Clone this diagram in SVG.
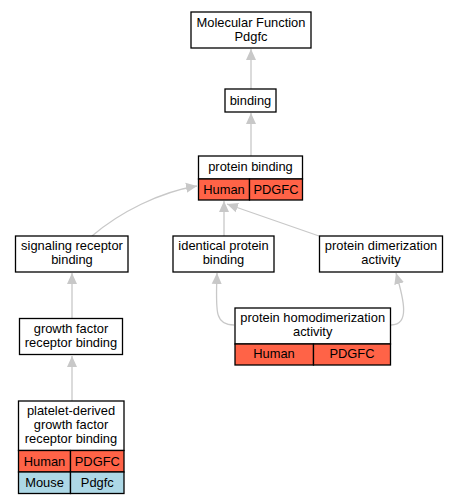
<svg xmlns="http://www.w3.org/2000/svg" width="459" height="504" viewBox="0 0 459 504">
<style>
.box{fill:#fff;stroke:#000;stroke-width:1.3}
.hu{fill:#ff6347;stroke:#000;stroke-width:1.3}
.mo{fill:#add8e6;stroke:#000;stroke-width:1.3}
text{font-family:"Liberation Sans",Arial,sans-serif;font-size:12.9px;text-anchor:middle;fill:#000}
.e{fill:none;stroke:#c8c8c8;stroke-width:1.3}
</style>
<defs>
<marker id="a" markerUnits="userSpaceOnUse" markerWidth="12" markerHeight="12" viewBox="0 0 12 12" refX="11" refY="6" orient="auto">
<path d="M0,1 L11,6 L0,11 Z" fill="#c8c8c8"/>
</marker>
</defs>
<rect width="459" height="504" fill="#fff"/>
<g id="edges">
<path class="e" d="M251,89 L251,49" marker-end="url(#a)"/>
<path class="e" d="M251,156 L251,113" marker-end="url(#a)"/>
<path class="e" d="M92,236 C120,212 160,192 197,186" marker-end="url(#a)"/>
<path class="e" d="M224,236 L224,201" marker-end="url(#a)"/>
<path class="e" d="M319,236 L227,204" marker-end="url(#a)"/>
<path class="e" d="M72,318 L72,273" marker-end="url(#a)"/>
<path class="e" d="M234,325 C214,325 216,310 217,273" marker-end="url(#a)"/>
<path class="e" d="M391,325 C410,325 404,300 396,273" marker-end="url(#a)"/>
<path class="e" d="M72,401 L72,356" marker-end="url(#a)"/>
</g>
<g id="mf">
<rect class="box" x="191" y="12" width="120" height="36"/>
<text x="251" y="26.5">Molecular Function</text>
<text x="251" y="40.5">Pdgfc</text>
</g>
<g id="binding">
<rect class="box" x="225" y="89" width="51" height="23"/>
<text x="250.5" y="105">binding</text>
</g>
<g id="protein_binding">
<rect class="box" x="198.5" y="156" width="104" height="23"/>
<text x="250.5" y="171">protein binding</text>
<rect class="hu" x="198.5" y="179" width="51" height="21"/>
<rect class="hu" x="249.5" y="179" width="53" height="21"/>
<text x="224" y="193.5">Human</text>
<text x="276" y="193.5">PDGFC</text>
</g>
<g id="signaling">
<rect class="box" x="15.5" y="236" width="112.5" height="36"/>
<text x="72" y="250">signaling receptor</text>
<text x="72" y="264">binding</text>
</g>
<g id="identical">
<rect class="box" x="173" y="236" width="101" height="36"/>
<text x="223.5" y="250">identical protein</text>
<text x="223.5" y="264">binding</text>
</g>
<g id="dimerization">
<rect class="box" x="319.5" y="236" width="123" height="36"/>
<text x="381" y="250">protein dimerization</text>
<text x="381" y="264">activity</text>
</g>
<g id="growth">
<rect class="box" x="19.5" y="318.5" width="103" height="36"/>
<text x="71" y="332.5">growth factor</text>
<text x="71" y="346.5">receptor binding</text>
</g>
<g id="homodim">
<rect class="box" x="235" y="308" width="155.5" height="36"/>
<text x="312.7" y="322">protein homodimerization</text>
<text x="312.7" y="336">activity</text>
<rect class="hu" x="235" y="344" width="78.5" height="21"/>
<rect class="hu" x="313.5" y="344" width="77" height="21"/>
<text x="274" y="358">Human</text>
<text x="352" y="358">PDGFC</text>
</g>
<g id="pdgf">
<rect class="box" x="18.5" y="401" width="105.5" height="49.5"/>
<text x="71" y="415">platelet-derived</text>
<text x="71" y="429">growth factor</text>
<text x="71" y="443">receptor binding</text>
<rect class="hu" x="18.5" y="450.5" width="52" height="21.5"/>
<rect class="hu" x="70.5" y="450.5" width="53.5" height="21.5"/>
<text x="44.5" y="465.5">Human</text>
<text x="97.3" y="465.5">PDGFC</text>
<rect class="mo" x="18.5" y="472" width="52" height="21.5"/>
<rect class="mo" x="70.5" y="472" width="53.5" height="21.5"/>
<text x="44.5" y="487">Mouse</text>
<text x="97.3" y="487">Pdgfc</text>
</g>
</svg>
